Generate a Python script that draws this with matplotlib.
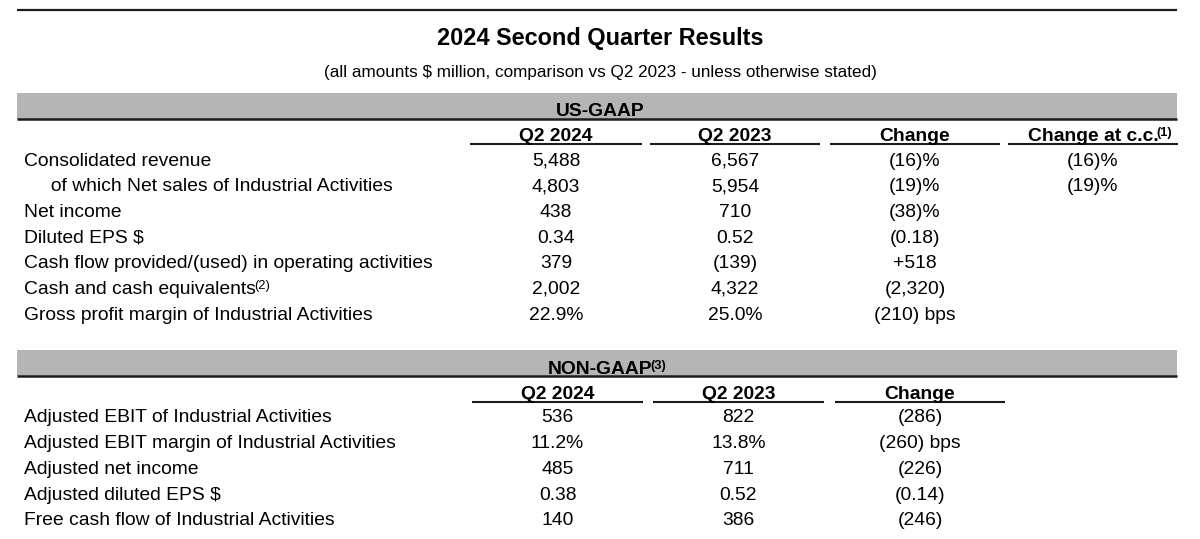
import matplotlib
matplotlib.use("Agg")
import matplotlib.pyplot as plt

plt.rcParams['font.family'] = ['Liberation Sans', 'DejaVu Sans']

title = "2024 Second Quarter Results"
subtitle = "(all amounts $ million, comparison vs Q2 2023 - unless otherwise stated)"

gaap_section = "US-GAAP"
gaap_headers = ["Q2 2024", "Q2 2023", "Change", "Change at c.c."]
gaap_labels = [
    "Consolidated revenue",
    "     of which Net sales of Industrial Activities",
    "Net income",
    "Diluted EPS $",
    "Cash flow provided/(used) in operating activities",
    "Cash and cash equivalents",
    "Gross profit margin of Industrial Activities",
]
gaap_label_sup = ["", "", "", "", "", "(2)", ""]
gaap_q2_2024 = ["5,488", "4,803", "438", "0.34", "379", "2,002", "22.9%"]
gaap_q2_2023 = ["6,567", "5,954", "710", "0.52", "(139)", "4,322", "25.0%"]
gaap_change = ["(16)%", "(19)%", "(38)%", "(0.18)", "+518", "(2,320)", "(210) bps"]
gaap_change_cc = ["(16)%", "(19)%", "", "", "", "", ""]

nongaap_section = "NON-GAAP"
nongaap_headers = ["Q2 2024", "Q2 2023", "Change"]
nongaap_labels = [
    "Adjusted EBIT of Industrial Activities",
    "Adjusted EBIT margin of Industrial Activities",
    "Adjusted net income",
    "Adjusted diluted EPS $",
    "Free cash flow of Industrial Activities",
]
nongaap_q2_2024 = ["536", "11.2%", "485", "0.38", "140"]
nongaap_q2_2023 = ["822", "13.8%", "711", "0.52", "386"]
nongaap_change = ["(286)", "(260) bps", "(226)", "(0.14)", "(246)"]

# ---------------- layout ----------------
W, H = 1200, 539
fig = plt.figure(figsize=(W / 100, H / 100), dpi=100)
ax = fig.add_axes([0, 0, 1, 1])
ax.set_xlim(0, W)
ax.set_ylim(H, 0)
ax.axis('off')

LINE = '#1c1c1c'
BAND = '#b5b5b5'
FS = 13.9
SUP_FS = 9.3
LEFT, RIGHT = 17, 1177
LABEL_X = 24
ROW_H = 25.7

fig.canvas.draw()
renderer = fig.canvas.get_renderer()
inv = ax.transData.inverted()


def sup(txt_artist, s, fs, bold=False):
    """place a superscript right after a text artist"""
    bb = txt_artist.get_window_extent(renderer=renderer)
    (x1, y_top), = inv.transform([[bb.x1, bb.y1]])
    ax.text(x1 - 2, y_top - 1, s, fontsize=fs, fontweight='bold' if bold else 'normal',
            ha='left', va='top', color='black')


# top rule
ax.plot([LEFT, RIGHT], [10, 10], color=LINE, lw=1.6, solid_capstyle='butt')

ax.text(600, 38, title, fontsize=16.9, fontweight='bold', ha='center', va='center')
ax.text(600, 73, subtitle, fontsize=12.35, ha='center', va='center')


def section(band_top, band_bot, name, name_sup, headers, ul_y, col_spans,
            labels, cols, row0, label_sups=None):
    ax.fill_between([LEFT, RIGHT], band_top, band_bot, color=BAND, lw=0)
    ax.plot([LEFT, RIGHT], [band_bot, band_bot], color=LINE, lw=1.8, solid_capstyle='butt')
    t = ax.text(600, band_bot - 2.5, name, fontsize=FS, fontweight='bold', ha='center',
                va='baseline')
    if name_sup:
        sup(t, name_sup, SUP_FS, bold=True)
    for i, (h, (x0, x1)) in enumerate(zip(headers, col_spans)):
        cx = (x0 + x1) / 2
        ht = ax.text(cx, ul_y - 3, h, fontsize=FS, fontweight='bold', ha='center',
                     va='baseline')
        if i == 3:
            sup(ht, "(1)", SUP_FS, bold=True)
        ax.plot([x0, x1], [ul_y, ul_y], color=LINE, lw=1.5, solid_capstyle='butt')
    for r, lab in enumerate(labels):
        y = row0 + r * ROW_H
        lt = ax.text(LABEL_X, y, lab, fontsize=FS, ha='left', va='center')
        if label_sups and label_sups[r]:
            sup(lt, label_sups[r], SUP_FS)
        for c, (x0, x1) in enumerate(col_spans):
            v = cols[c][r]
            if v:
                ax.text((x0 + x1) / 2, y, v, fontsize=FS, ha='center', va='center')


gaap_spans = [(470, 642), (650, 820), (830, 1000), (1008, 1178)]
section(93, 118.5, gaap_section, "", gaap_headers, 144, gaap_spans,
        gaap_labels, [gaap_q2_2024, gaap_q2_2023, gaap_change, gaap_change_cc], 161,
        label_sups=gaap_label_sup)

nongaap_spans = [(472, 643), (653, 824), (835, 1005)]
section(350, 376, nongaap_section, "(3)", nongaap_headers, 402, nongaap_spans,
        nongaap_labels, [nongaap_q2_2024, nongaap_q2_2023, nongaap_change], 418)

fig.savefig("out.png", dpi=100)
